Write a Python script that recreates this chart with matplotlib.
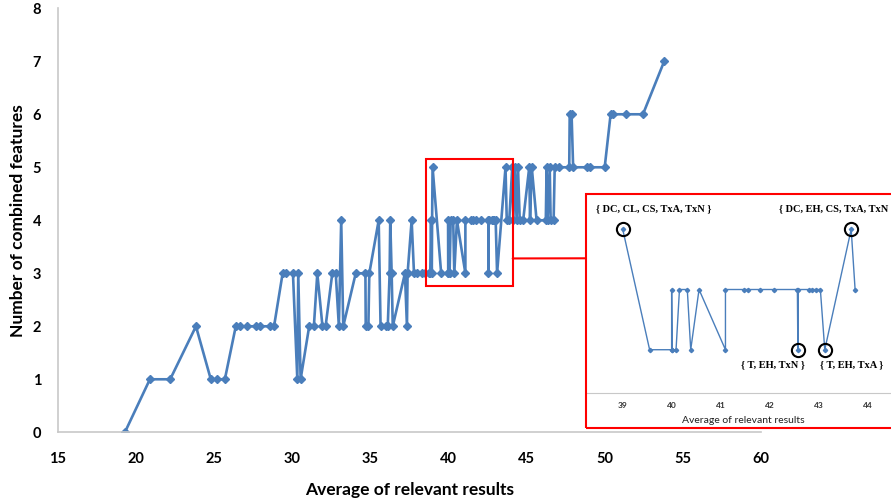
import numpy as np
import matplotlib
matplotlib.use('Agg')
import matplotlib.pyplot as plt
from matplotlib.patches import Rectangle, ConnectionPatch

# data (average of relevant results, number of combined features)
avg_results = [19.3, 20.9, 22.2, 23.85, 24.8, 25.2, 25.7, 26.4, 26.7, 27.1, 27.7, 27.95, 28.6, 28.85,
               29.4, 29.6, 30.06, 30.34, 30.4, 30.55, 31.1, 31.4, 31.62, 31.95, 32.15, 32.58, 32.8,
               33.0, 33.15, 33.28, 34.08, 34.7, 34.72, 34.89, 34.95, 35.55, 35.67, 36.0, 36.13,
               36.25, 36.29, 36.38, 36.45, 37.23, 37.36, 37.4, 37.66, 37.81, 38.02, 38.3, 38.5,
               38.8, 38.85, 38.9, 38.95, 38.97, 39.0,
               39.55, 40.0, 40.0, 40.01, 40.09, 40.16, 40.32, 40.39, 40.56, 41.1, 41.1, 41.48, 41.56,
               41.8, 42.1, 42.57, 42.58, 42.59, 42.8, 42.87, 42.95, 43.04, 43.13, 43.67, 43.75,
               43.91, 44.1, 44.17, 44.27, 44.38, 44.47, 44.58, 44.8, 45.19, 45.24, 45.35, 45.66,
               46.25, 46.3, 46.36, 46.5, 46.56, 46.75, 46.82, 47.11, 47.75, 47.78, 47.9, 48.0,
               48.87, 49.08, 50.02, 50.4, 50.53, 51.38, 52.47, 53.83]
n_features = [0, 1, 1, 2, 1, 1, 1, 2, 2, 2, 2, 2, 2, 2,
              3, 3, 3, 1, 3, 1, 2, 2, 3, 2, 2, 3, 3,
              2, 4, 2, 3, 3, 2, 2, 3, 4, 2, 2, 2,
              3, 4, 3, 2, 3, 2, 3, 4, 3, 3, 3, 3,
              3, 3, 4, 3, 4, 5,
              3, 3, 4, 3, 3, 4, 4, 3, 4, 3, 4, 4, 4,
              4, 4, 4, 3, 4, 4, 4, 4, 4, 3, 5, 4,
              4, 5, 4, 5, 4, 5, 4, 4, 5, 4, 5, 4,
              4, 5, 4, 5, 4, 4, 5, 5, 5, 6, 6, 5,
              5, 5, 5, 6, 6, 6, 6, 7]

inset_range = (39.0, 43.8)
annot_x = [39.0, 43.67, 42.58, 43.13]
annot_y = [5, 5, 3, 3]
annot_text = ['{ DC, CL, CS, TxA, TxN }', '{ DC, EH, CS, TxA, TxN }',
              '{ T, EH, TxN }', '{ T, EH, TxA }']

blue = '#4A7EBB'
plt.rcParams['font.family'] = ['Lato', 'DejaVu Sans']

fig = plt.figure(figsize=(8.91, 4.99), dpi=100)
ax = fig.add_axes([0.0648, 0.1337, 0.7888, 0.8497])
ax.plot(avg_results, n_features, color=blue, lw=1.9, marker='D', ms=4.5,
        markeredgecolor=blue, markerfacecolor=blue)
ax.set_xlim(15, 60)
ax.set_ylim(0, 8)
ax.set_xticks(range(15, 61, 5))
ax.set_yticks(range(0, 9))
ax.tick_params(length=0, labelsize=10.5)
ax.tick_params(axis='x', pad=14)
ax.tick_params(axis='y', pad=12)
for lab in ax.get_xticklabels() + ax.get_yticklabels():
    lab.set_fontweight('bold')
for s in ['top', 'right']:
    ax.spines[s].set_visible(False)
for s in ['left', 'bottom']:
    ax.spines[s].set_color('#c8c8c8')
    ax.spines[s].set_linewidth(1.2)
ax.set_xlabel('Average of relevant results', fontsize=12.5, fontweight='bold', labelpad=12)
ax.set_ylabel('Number of combined features', fontsize=12.5, fontweight='bold', labelpad=5)

# zoom box on the main chart
bx0, bx1, by0, by1 = 38.56, 44.13, 2.76, 5.15
ax.add_patch(Rectangle((bx0, by0), bx1 - bx0, by1 - by0, fill=False, ec='red', lw=1.5, zorder=5))

# inset
ax_in = fig.add_axes([587 / 891, 0.2118, (905 - 587) / 891, 0.3994])
ax_in.set_facecolor('white')
xs = np.array(avg_results)
ys = np.array(n_features)
m = (xs >= inset_range[0]) & (xs <= inset_range[1])
ax_in.plot(xs[m], ys[m], color=blue, lw=1.0, marker='D', ms=2.2,
           markeredgecolor=blue, markerfacecolor=blue)
ax_in.set_xlim(38.27, 44.77)
ax_in.set_ylim(2.276, 5.586)
ax_in.set_xticks(range(39, 45))
ax_in.set_yticks([])
ax_in.tick_params(length=0, labelsize=6, pad=6, labelcolor='#333333')
for lab in ax_in.get_xticklabels():
    lab.set_fontweight('bold')
for s in ['top', 'right', 'left']:
    ax_in.spines[s].set_visible(False)
ax_in.spines['bottom'].set_color('#c8c8c8')
ax_in.set_xlabel('Average of relevant results', fontsize=7.5, labelpad=5, color='#222222',
                 x=(743 - 587) / (905 - 587))

# label placement (offsets in points, alignment)
offsets = [(-19, 15, 'left'), (-52, 15, 'left'), (5, -10.5, 'right'), (-3.6, -10.5, 'left')]
for px, py, txt, (dx, dy, ha) in zip(annot_x, annot_y, annot_text, offsets):
    ax_in.plot([px], [py], 'o', ms=9.5, mfc='none', mec='black', mew=1.5)
    ax_in.annotate(txt, (px, py), xytext=(dx, dy), textcoords='offset points',
                   ha=ha, va='center', fontsize=7.5, fontweight='bold',
                   family='Liberation Serif', annotation_clip=False)

# red frame around inset
fig.patches.append(Rectangle((586 / 891, (499 - 428.3) / 499), 0.5, (428.3 - 194) / 499,
                             fill=False, ec='red', lw=1.5, transform=fig.transFigure,
                             figure=fig))

# connector line
con = ConnectionPatch(xyA=(bx1, 3.28), coordsA=ax.transData,
                      xyB=(586 / 891, (499 - 258.3) / 499), coordsB=fig.transFigure,
                      color='red', lw=1.5)
fig.add_artist(con)

fig.savefig('out.png', dpi=100)
